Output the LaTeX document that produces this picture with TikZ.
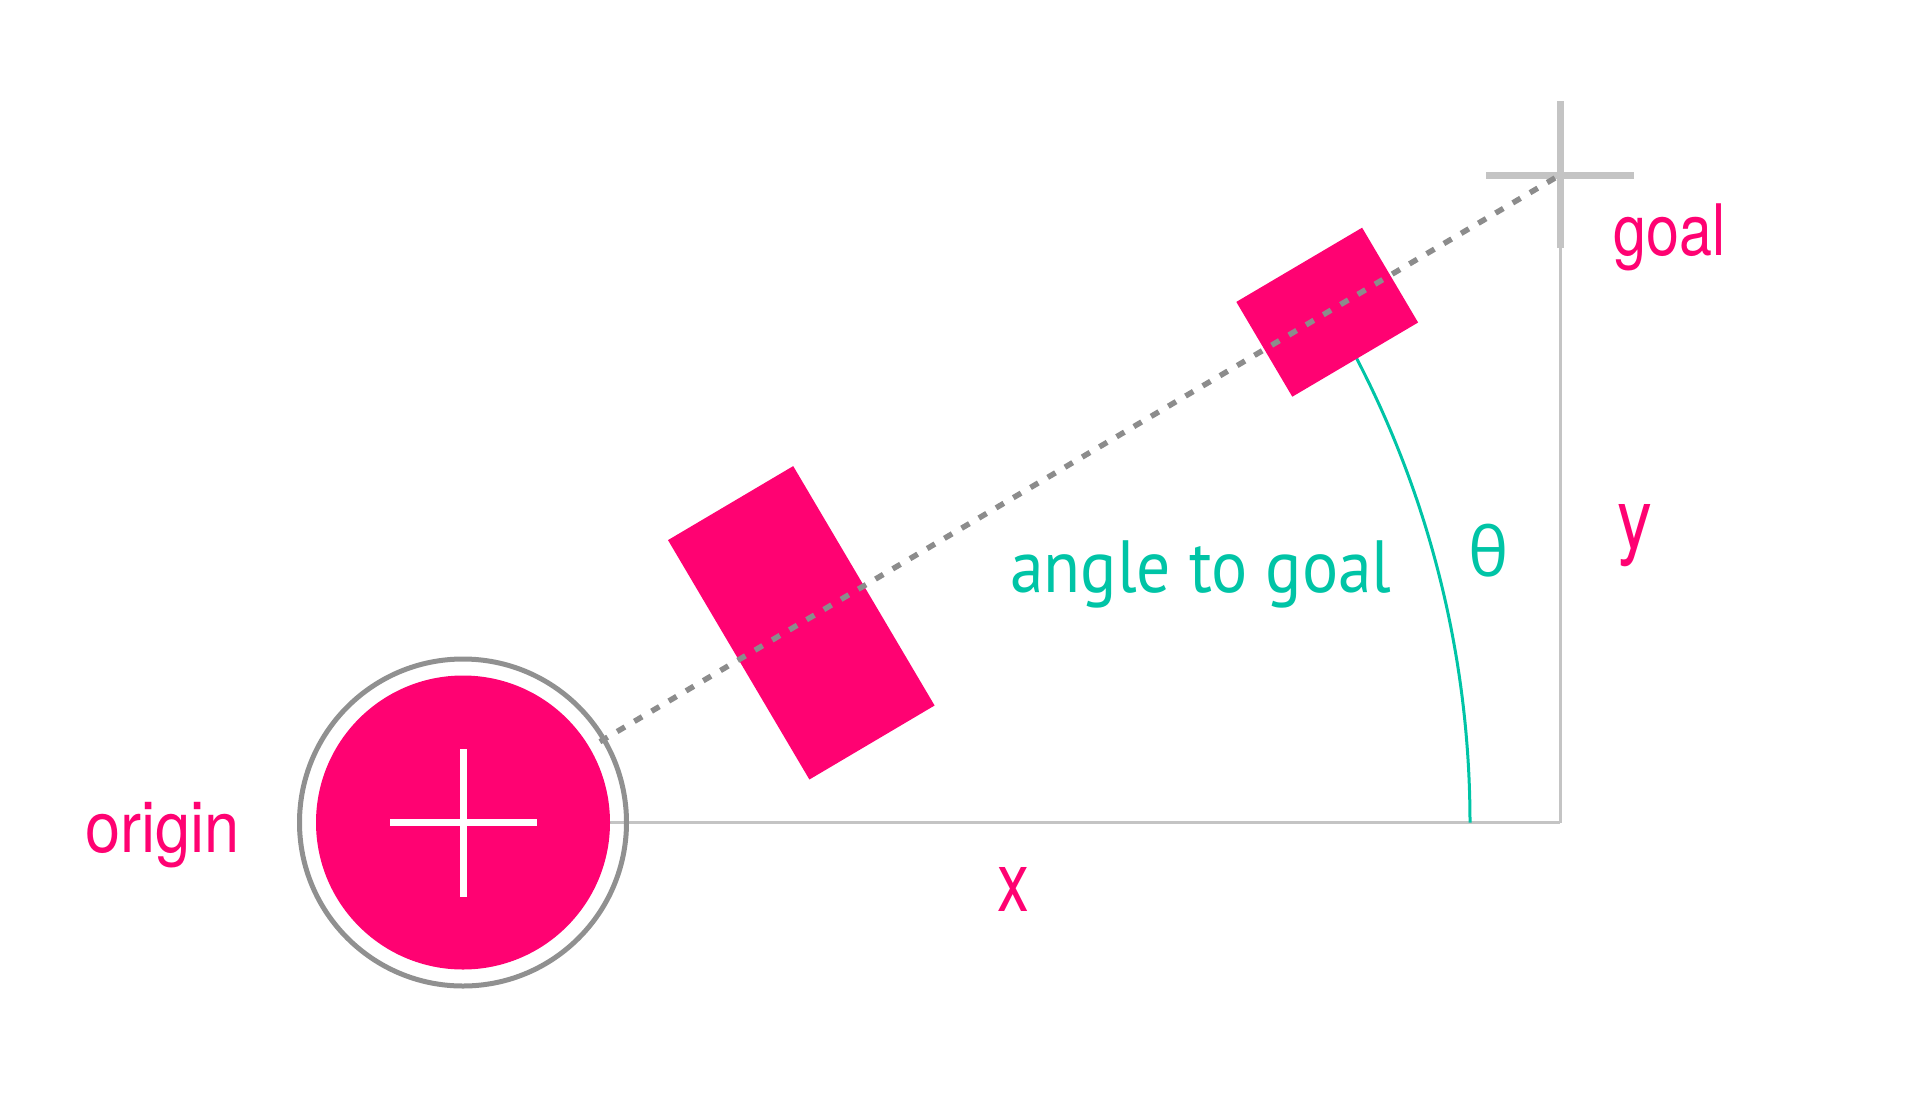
\documentclass[tikz,border=0pt]{standalone}
\usepackage{fontspec}
\usetikzlibrary{calc}
\newfontfamily\pinkfont{TeX Gyre Heros}
\newfontfamily\tealfont{PT Sans}
\newfontfamily\greekfont{Open Sans}
\definecolor{rpink}{HTML}{FF0272}
\definecolor{rteal}{HTML}{00C4A6}
\definecolor{ringgray}{HTML}{909090}
\definecolor{dashgray}{HTML}{8C8C8C}
\definecolor{axisgray}{HTML}{C4C4C4}
\tikzset{
  axisline/.style={draw=axisgray, line width=3pt},
  goalcross/.style={draw=axisgray, line width=7pt},
  pathline/.style={draw=dashgray, line width=5.5pt, dash pattern=on 9pt off 11pt},
  robotbox/.style={fill=rpink},
  pinklabel/.style={text=rpink, inner sep=0pt, anchor=base west, font=\pinkfont\fontsize{71}{84}\selectfont},
  bigpinklabel/.style={pinklabel, font=\pinkfont\fontsize{84}{96}\selectfont},
  teallabel/.style={text=rteal, inner sep=0pt, anchor=base west, font=\tealfont\fontsize{74}{88}\selectfont},
}
\begin{document}
\begin{tikzpicture}[x=1pt, y=-1pt]
\useasboundingbox (0,0) rectangle (1915,1096);
\coordinate (O) at (463,822.5);
\coordinate (G) at (1560,175);
\coordinate (A) at (1560,822.5);
% axes
\draw[axisline] (610,822.5) -- (A);
\draw[axisline] (G) -- (A);
\draw[goalcross] (1560,101) -- (1560,248);
\draw[goalcross] (1486,175) -- (1634,175);
% angle arc
\draw[rteal, line width=3pt] (1470,822.5) arc[start angle=0, end angle=-30.5, radius=1007];
% robot footprints
\fill[robotbox] (934.6,705.5) -- (793.2,466.1) -- (668,540.1) -- (809.4,779.5) -- cycle;
\fill[robotbox] (1418.1,322.5) -- (1362.1,227.7) -- (1236.3,301.9) -- (1292.3,396.7) -- cycle;
% path to goal
\draw[pathline] ($(O)!159pt!(G)$) -- (G);
% origin
\draw[ringgray, line width=5pt] (O) circle[radius=163.5];
\fill[rpink] (O) circle[radius=147];
\draw[white, line width=7pt] (390,822.5) -- (537,822.5);
\draw[white, line width=7pt] (463,749) -- (463,897);
% labels
\node[pinklabel] (lorigin) at (85,852) {\scalebox{0.89}[1]{origin}};
\node[pinklabel] (lgoal) at (1613,255) {\scalebox{0.835}[1]{goal}};
\node[bigpinklabel] (lx) at (997,911) {\scalebox{0.76}[1]{x}};
\node[bigpinklabel] (ly) at (1617,548) {\scalebox{0.83}[1]{y}};
\node[teallabel] (langle) at (1010,592) {\scalebox{0.914}[1]{angle to goal}};
\node[text=rteal, inner sep=0pt, font=\greekfont\fontsize{68}{80}\selectfont] (ltheta) at (1489,551) {θ};
\end{tikzpicture}
\end{document}
